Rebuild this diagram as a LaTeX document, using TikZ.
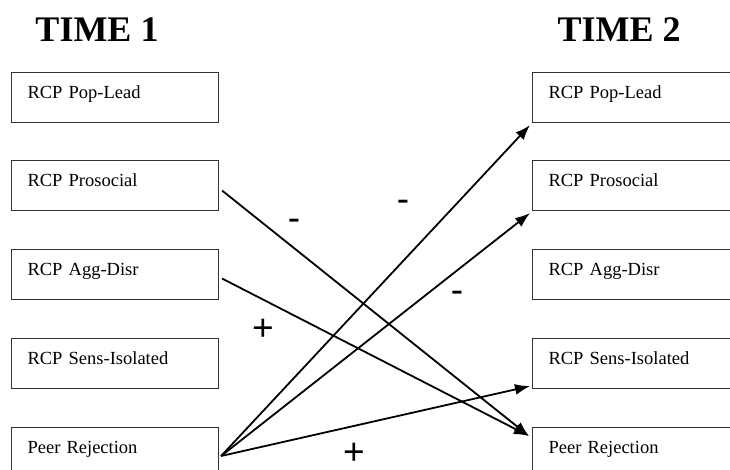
\documentclass[tikz,border=0pt]{standalone}
\usepackage{fontspec}
\setmainfont{Liberation Serif}
\newfontfamily\signfont{Liberation Sans}
\usetikzlibrary{calc,arrows.meta}
\begin{document}
\begin{tikzpicture}[x=1pt,y=-1pt,
  varbox/.style={draw=black!80, line width=1.1pt, anchor=north west,
    inner xsep=16pt, inner ysep=0pt, text width=175pt,
    text height=26pt, text depth=24pt, align=left,
    font=\fontsize{18.5}{20}\selectfont},
  widebox/.style={varbox, text width=200pt},
  heading/.style={font=\fontsize{36}{40}\selectfont\bfseries},
  path/.style={line width=1.8pt, -{Latex[length=15pt,width=11pt]}},
  sign/.style={font=\signfont\fontsize{37}{40}\selectfont, inner sep=0pt, anchor=base}]
\useasboundingbox (0,0) rectangle (730,470);
\clip (0,0) rectangle (730,470);
\fill[white] (0,0) rectangle (730,470);

% column headings
\node[heading] (t1) at (97,30) {TIME 1};
\node[heading] (t2) at (619,30) {TIME 2};

% time 1 measures
\node[varbox] (lpop)  at (11,72)  {RCP Pop-Lead};
\node[varbox] (lpro)  at (11,160) {RCP Prosocial};
\node[varbox] (lagg)  at (11,249) {RCP Agg-Disr};
\node[varbox] (lsens) at (11,338) {RCP Sens-Isolated};
\node[varbox] (lpeer) at (11,427) {Peer Rejection};

% time 2 measures
\node[widebox] (rpop)  at (532,72)  {RCP Pop-Lead};
\node[widebox] (rpro)  at (532,160) {RCP Prosocial};
\node[widebox] (ragg)  at (532,249) {RCP Agg-Disr};
\node[widebox] (rsens) at (532,338) {RCP Sens-Isolated};
\node[widebox] (rpeer) at (532,427) {Peer Rejection};

% cross-lagged paths
\draw[path] ($(lpro.east)+(3,5)$) -- ($(rpeer.north west)+(-3,9)$);
\draw[path] ($(lagg.east)+(3,4)$) -- ($(rpeer.north west)+(-3,9)$);
\coordinate (src) at ($(lpeer.north east)+(2,29)$);
\draw[path] (src) -- ($(rpop.south west)+(-2,2)$);
\draw[path] (src) -- ($(rpro.south west)+(-2,2)$);
\draw[path] (src) -- ($(rsens.south west)+(-2,-3)$);

% path signs
\node[sign] (s1) at (294,230) {-};
\node[sign] (s2) at (403,212) {-};
\node[sign] (s3) at (457,302) {-};
\node[sign] (s4) at (263,340) {+};
\node[sign] (s5) at (354,464) {+};
\end{tikzpicture}
\end{document}
